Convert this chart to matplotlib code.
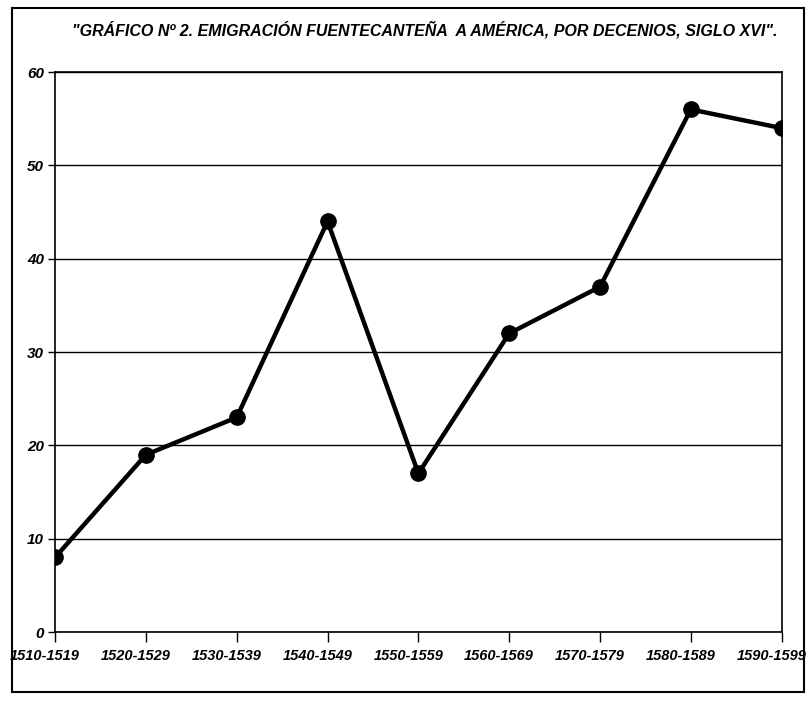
import matplotlib
matplotlib.use("Agg")
import matplotlib.pyplot as plt
from matplotlib.patches import Rectangle
from matplotlib.transforms import ScaledTranslation

# emigrantes por decenio
decenios = ["1510-1519", "1520-1529", "1530-1539", "1540-1549", "1550-1559",
            "1560-1569", "1570-1579", "1580-1589", "1590-1599"]
emigrantes = [8, 19, 23, 44, 17, 32, 37, 56, 54]
yticks = [0, 10, 20, 30, 40, 50, 60]

plt.rcParams['font.family'] = ['Liberation Sans', 'DejaVu Sans']

fig = plt.figure(figsize=(8.1, 7.07), dpi=100)
ax = fig.add_axes([0.068, 0.106, 0.897, 0.792])

x = list(range(len(decenios)))
ax.plot(x, emigrantes, color='black', lw=3.2, marker='o', ms=11, zorder=3)

ax.set_xlim(0, len(decenios) - 1)
ax.set_ylim(0, 60)
ax.set_xticks(x)
ax.set_xticklabels(decenios, fontsize=10.5, fontweight='bold', fontstyle='italic')
ax.set_yticks(yticks)
ax.set_yticklabels([str(v) for v in yticks], fontsize=11, fontweight='bold', fontstyle='italic')
ax.tick_params(axis='x', direction='out', length=7, width=1, pad=5)
ax.tick_params(axis='y', direction='out', length=5, width=1, pad=3)
ax.yaxis.grid(True, color='black', lw=1)
for s in ax.spines.values():
    s.set_linewidth(1.2)

# etiquetas del eje x algo desplazadas a la izquierda, como en el original
shift = ScaledTranslation(-10 / 100, 0, fig.dpi_scale_trans)
for lab in ax.get_xticklabels():
    lab.set_transform(lab.get_transform() + shift)

fig.text(0.525, 0.958,
         '"GRÁFICO Nº 2. EMIGRACIÓN FUENTECANTEÑA  A AMÉRICA, POR DECENIOS, SIGLO XVI".',
         ha='center', va='center', fontsize=11.5, fontweight='bold', fontstyle='italic')

# marco exterior
fig.patches.append(Rectangle((0.015, 0.021), 0.977, 0.967, transform=fig.transFigure,
                             fill=False, edgecolor='black', lw=1.5))

plt.savefig("out.png")
